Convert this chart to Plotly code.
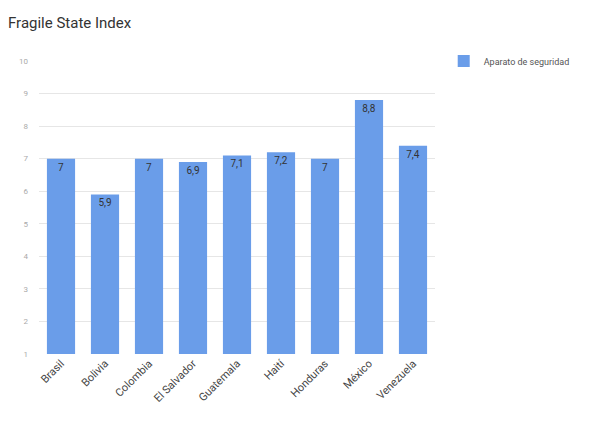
import plotly.graph_objects as go

countries = ["Brasil", "Bolivia", "Colombia", "El Salvador", "Guatemala", "Haití", "Honduras", "México", "Venezuela"]
values = [7.0, 5.9, 7.0, 6.9, 7.1, 7.2, 7.0, 8.8, 7.4]
labels = ["7", "5,9", "7", "6,9", "7,1", "7,2", "7", "8,8", "7,4"]
y_ticks = [1, 2, 3, 4, 5, 6, 7, 8, 9, 10]
series_name = "Aparato de seguridad"

fig = go.Figure()
fig.add_trace(go.Bar(
    x=countries, y=values, name=series_name,
    marker=dict(color="#6a9de9", line=dict(width=0)),
    text=labels, textposition="inside", insidetextanchor="end",
    textangle=0,
    textfont=dict(family="Roboto", size=10, color="#333333"),
    showlegend=True,
))

fig.update_layout(
    width=591, height=421,
    margin=dict(l=39, r=156, t=61, b=67),
    paper_bgcolor="white", plot_bgcolor="white",
    title=dict(text="Fragile State Index", x=8/591, xanchor="left", y=1-23/421, yanchor="middle",
               font=dict(family="Roboto", size=15, color="#333333")),
    bargap=0.36,
    showlegend=True,
    legend=dict(x=1.022, xanchor="left", y=1.0, yanchor="middle",
                font=dict(family="Roboto", size=9, color="#555555"),
                bgcolor="rgba(0,0,0,0)", itemwidth=30),
    xaxis=dict(tickangle=-45, tickfont=dict(family="Roboto", size=11, color="#444444"),
               showgrid=False, showline=False, ticks=""),
    yaxis=dict(range=[1, 10], tickvals=y_ticks, ticktext=[str(v) for v in y_ticks],
               tickfont=dict(family="Roboto", size=8, color="#aaaaaa"),
               gridcolor="#e6e6e6", zeroline=False, showline=False, ticks="",
               ticklabelstandoff=10),
)

fig.write_html("out.html")
